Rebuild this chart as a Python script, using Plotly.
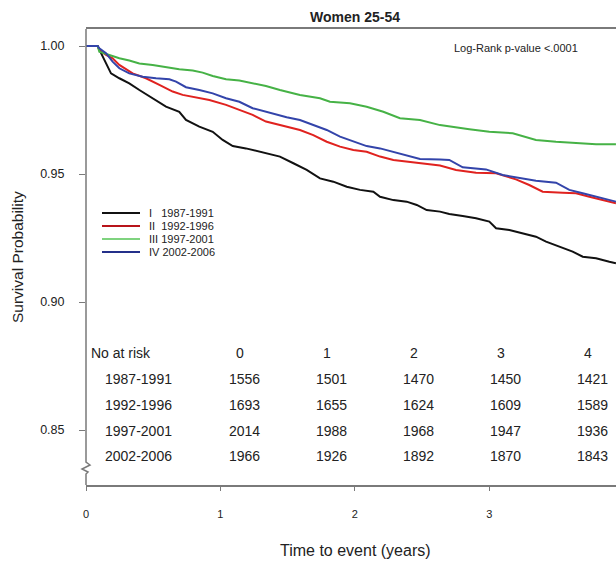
import plotly.graph_objects as go

# ---------------- data ----------------
series_names = ["I   1987-1991", "II  1992-1996", "III 1997-2001", "IV 2002-2006"]
curve_colors = ["#111111", "#e0221f", "#46b246", "#3344aa"]
legend_colors = ["#111111", "#b8141a", "#7fd37f", "#24308a"]

t_black = [0, 0.087, 0.112, 0.149, 0.186, 0.248, 0.322, 0.397, 0.496, 0.595, 0.694, 0.744, 0.843, 0.943, 1.017,
           1.092, 1.190, 1.339, 1.443, 1.543, 1.642, 1.741, 1.840, 1.940, 2.039, 2.138, 2.188, 2.287, 2.386, 2.461,
           2.535, 2.634, 2.703, 2.803, 2.902, 3.001, 3.051, 3.150, 3.249, 3.348, 3.423, 3.522, 3.621, 3.696, 3.795,
           3.894, 3.943]
s_black = [1.0, 1.0, 0.9972, 0.9932, 0.9893, 0.9874, 0.9854, 0.9828, 0.9796, 0.9763, 0.9743, 0.9711, 0.9685, 0.9665,
           0.9633, 0.9609, 0.9600, 0.9581, 0.9568, 0.9542, 0.9516, 0.9483, 0.9470, 0.9450, 0.9438, 0.9431, 0.9411,
           0.9398, 0.9392, 0.9379, 0.9359, 0.9353, 0.9344, 0.9336, 0.9327, 0.9314, 0.9288, 0.9281, 0.9268, 0.9255,
           0.9236, 0.9216, 0.9197, 0.9177, 0.9171, 0.9157, 0.9151]

t_red = [0, 0.087, 0.099, 0.149, 0.198, 0.248, 0.347, 0.446, 0.546, 0.645, 0.719, 0.818, 0.918, 1.042, 1.141, 1.240,
         1.339, 1.394, 1.493, 1.592, 1.691, 1.791, 1.890, 1.989, 2.088, 2.188, 2.287, 2.386, 2.485, 2.634, 2.753,
         2.902, 3.051, 3.199, 3.298, 3.398, 3.547, 3.646, 3.745, 3.845, 3.943]
s_red = [1.0, 1.0, 0.9984, 0.9965, 0.9952, 0.9926, 0.9893, 0.9874, 0.9848, 0.9822, 0.9809, 0.9800, 0.9789, 0.9770,
         0.9750, 0.9731, 0.9705, 0.9698, 0.9685, 0.9672, 0.9652, 0.9626, 0.9607, 0.9594, 0.9587, 0.9568, 0.9555,
         0.9548, 0.9542, 0.9533, 0.9516, 0.9505, 0.9503, 0.9479, 0.9457, 0.9431, 0.9427, 0.9425, 0.9411, 0.9398,
         0.9386]

t_green = [0, 0.087, 0.099, 0.174, 0.248, 0.322, 0.397, 0.496, 0.595, 0.694, 0.794, 0.868, 0.943, 1.042, 1.141,
           1.240, 1.339, 1.443, 1.592, 1.741, 1.815, 1.964, 2.088, 2.212, 2.336, 2.485, 2.634, 2.852, 3.001, 3.175,
           3.348, 3.497, 3.646, 3.795, 3.943]
s_green = [1.0, 1.0, 0.9978, 0.9965, 0.9952, 0.9943, 0.9932, 0.9926, 0.9917, 0.9909, 0.9904, 0.9896, 0.9883, 0.9870,
           0.9865, 0.9854, 0.9844, 0.9828, 0.9809, 0.9796, 0.9782, 0.9776, 0.9763, 0.9743, 0.9718, 0.9711, 0.9691,
           0.9675, 0.9665, 0.9659, 0.9633, 0.9626, 0.9622, 0.9616, 0.9616]

t_blue = [0, 0.087, 0.099, 0.149, 0.198, 0.248, 0.322, 0.422, 0.521, 0.620, 0.670, 0.744, 0.843, 0.943, 1.042, 1.141,
          1.240, 1.339, 1.394, 1.493, 1.592, 1.691, 1.791, 1.890, 1.989, 2.088, 2.188, 2.287, 2.386, 2.485, 2.634,
          2.703, 2.803, 2.976, 3.100, 3.249, 3.348, 3.497, 3.596, 3.696, 3.795, 3.894, 3.943]
s_blue = [1.0, 1.0, 0.9991, 0.9972, 0.9939, 0.9913, 0.9893, 0.9880, 0.9874, 0.9870, 0.9861, 0.9839, 0.9828, 0.9815,
          0.9796, 0.9782, 0.9757, 0.9743, 0.9737, 0.9722, 0.9711, 0.9691, 0.9672, 0.9646, 0.9626, 0.9609, 0.9600,
          0.9587, 0.9574, 0.9559, 0.9557, 0.9555, 0.9526, 0.9518, 0.9496, 0.9483, 0.9474, 0.9466, 0.9438, 0.9425,
          0.9411, 0.9398, 0.9392]

curves_t = [t_black, t_red, t_green, t_blue]
curves_s = [s_black, s_red, s_green, s_blue]

risk_times = ["0", "1", "2", "3", "4"]
risk_groups = ["1987-1991", "1992-1996", "1997-2001", "2002-2006"]
risk_1987 = [1556, 1501, 1470, 1450, 1421]
risk_1992 = [1693, 1655, 1624, 1609, 1589]
risk_1997 = [2014, 1988, 1968, 1947, 1936]
risk_2002 = [1966, 1926, 1892, 1870, 1843]
risk_rows = [risk_1987, risk_1992, risk_1997, risk_2002]

x_ticks = [0, 1, 2, 3]
y_ticks = [0.85, 0.90, 0.95, 1.00]

# ---------------- layout helpers ----------------
W, H = 616, 563
REF_LEFT, REF_TOP, REF_BOTTOM = 86, 29, 485          # plot box in pixels
L, T = REF_LEFT, REF_TOP
B = H - REF_BOTTOM
R = 0
PW, PH = W - L - R, H - T - B
PX_PER_YEAR = 134.4
PX_PER_UNIT = 2560.0   # pixels per 1.0 survival probability
Y100 = 46              # pixel row of S = 1.00


def xp(px):
    return (px - L) / PW


def yp(py):
    return (H - B - py) / PH


FONT = "Arial, Liberation Sans, sans-serif"
TXT = "#222222"
AX = "#7a7a7a"

fig = go.Figure()
for name, col, tt, ss in zip(series_names, curve_colors, curves_t, curves_s):
    fig.add_trace(go.Scatter(x=tt, y=ss, mode="lines", name=name, showlegend=False,
                             line=dict(color=col, width=2)))

annotations = []
shapes = []


def label(text, px, py, size, xanchor="center", **kw):
    annotations.append(dict(text=text, x=xp(px), y=yp(py), xref="paper", yref="paper",
                            xanchor=xanchor, yanchor="middle", showarrow=False,
                            font=dict(size=size, family=FONT, color=TXT), **kw))


# title / axis titles
label("<b>Women 25-54</b>", 355, 17, 14)
label("Time to event (years)", 355, 550, 16)
label("Survival Probability", 17, 257, 15.5, textangle=-90)
label("Log-Rank p-value <.0001", 516, 48, 11)

# legend (drawn inside the plot, compact spacing as in the reference)
for i, (name, col) in enumerate(zip(series_names, legend_colors)):
    py = 213 + i * 13
    shapes.append(dict(type="line", xref="paper", yref="paper", x0=xp(102), x1=xp(140), y0=yp(py), y1=yp(py),
                       line=dict(color=col, width=2)))
    label(name.replace(" ", "&nbsp;"), 147, py, 11, xanchor="left")

# number at risk table
col_px = [244, 331, 418, 505, 592]
row_py = [353, 379, 405, 431, 456]
label("No at risk", 89, row_py[0], 14, xanchor="left")
for cx, lab in zip(col_px, risk_times):
    label(lab, cx - 4, row_py[0], 14)
for r, (grp, vals) in enumerate(zip(risk_groups, risk_rows)):
    py = row_py[r + 1]
    label(grp, 103, py, 14, xanchor="left")
    for cx, v in zip(col_px, vals):
        label(str(v), cx, py, 14)

# y axis line with break symbol
shapes.append(dict(type="path", xref="paper", yref="paper",
                   path=(f"M {xp(86)},{yp(REF_TOP)} L {xp(86)},{yp(460)} L {xp(86)},{yp(462)} "
                         f"L {xp(90)},{yp(465)} L {xp(82)},{yp(469)} L {xp(88)},{yp(472)} "
                         f"L {xp(86)},{yp(474)} L {xp(86)},{yp(REF_BOTTOM)}"),
                   line=dict(color=AX, width=1.5)))

y_lo = 1 - (REF_BOTTOM - Y100) / PX_PER_UNIT
y_hi = 1 + (Y100 - REF_TOP) / PX_PER_UNIT

fig.update_layout(
    width=W, height=H,
    margin=dict(l=L, r=R, t=T, b=B),
    paper_bgcolor="white", plot_bgcolor="white",
    annotations=annotations, shapes=shapes,
    xaxis=dict(range=[0, PW / PX_PER_YEAR], tickvals=x_ticks, ticktext=[str(v) for v in x_ticks],
               showgrid=False, zeroline=False, showline=True, linecolor=AX, linewidth=1.5, mirror=True,
               ticks="outside", ticklen=4, tickcolor=AX, ticklabelstandoff=14,
               tickfont=dict(size=11, family=FONT, color=TXT)),
    yaxis=dict(range=[y_lo, y_hi], tickvals=y_ticks,
               ticktext=[f"{v:.2f}" for v in y_ticks],
               showgrid=False, zeroline=False, showline=False,
               ticks="outside", ticklen=6, tickcolor=AX, ticklabelstandoff=12,
               tickfont=dict(size=12.5, family=FONT, color=TXT)),
)

# remove the browser's default 8px body margin so the figure fills the window exactly
fig.write_html("out.html",
               config={"displayModeBar": False},
               post_script="document.body.style.margin='0';document.body.style.overflow='hidden';")
